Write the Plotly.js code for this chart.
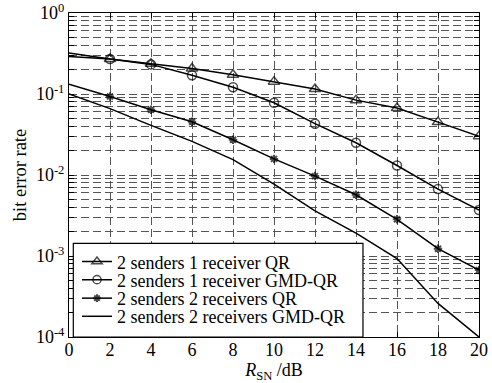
<!DOCTYPE html>
<html><head><meta charset="utf-8">
<script src="https://cdn.plot.ly/plotly-3.0.1.min.js"></script>
<style>html,body{margin:0;padding:0;background:#fff}#c{width:492px;height:383px}</style>
</head><body><div id="c"></div>
<script>
var snr = [0, 2, 4, 6, 8, 10, 12, 14, 16, 18, 20];
var qr1 = [0.32, 0.27, 0.237, 0.206, 0.173, 0.142, 0.115, 0.084, 0.067, 0.045, 0.030];
var gmd1 = [0.29, 0.27, 0.232, 0.17, 0.121, 0.078, 0.043, 0.025, 0.0131, 0.0067, 0.0037];
var qr2 = [0.132, 0.093, 0.064, 0.0455, 0.0272, 0.0158, 0.0097, 0.0057, 0.00284, 0.00123, 0.00067];
var gmd2 = [0.1, 0.066, 0.041, 0.026, 0.0155, 0.0077, 0.0036, 0.00192, 0.00093, 0.00026, 0.0001];
var names = ['2 senders 1 receiver QR', '2 senders 1 receiver GMD-QR', '2 senders 2 receivers QR', '2 senders 2 receivers GMD-QR'];
var yMajor = [1e-4, 1e-3, 1e-2, 1e-1, 1];
var yLabels = ['10<sup>-4</sup>', '10<sup>-3</sup>', '10<sup>-2</sup>', '10<sup>-1</sup>', '10<sup>0</sup>'];

var serif = 'Liberation Serif';
function sizes(s){ return snr.map(function(v,i){ return i===0 ? 0 : s; }); }
var traces = [
 {x: snr, y: qr1, name: names[0], legend: 'legend', mode: 'lines+markers', line:{color:'#000', width:1.5},
  marker:{symbol:'triangle-up-open', size:sizes(10), color:'#000', line:{width:1.5, color:'#000'}}},
 {x: snr, y: gmd1, name: names[1], legend: 'legend2', mode: 'lines+markers', line:{color:'#000', width:1.5},
  marker:{symbol:'circle-open', size:sizes(9), color:'#000', line:{width:1.5, color:'#000'}}},
 {x: snr, y: qr2, name: names[2], legend: 'legend3', mode: 'lines+markers', line:{color:'#000', width:1.5},
  marker:{symbol:'asterisk-open', size:sizes(7), color:'#000', line:{width:2, color:'#000'}}},
 {x: snr, y: gmd2, name: names[3], legend: 'legend4', mode: 'lines', line:{color:'#000', width:1.5}}
];

var yMinor = [];
for (var i = 0; i < yMajor.length - 1; i++) {
  for (var d = 2; d <= 9; d++) yMinor.push(d * yMajor[i]);
}

function leg(y) {
  return {x: 0.0195, y: y, xanchor: 'left', yanchor: 'middle', bgcolor: 'rgba(0,0,0,0)', borderwidth: 0,
    font: {family: serif, size: 18, color: '#000'}, itemwidth: 30};
}
var grid = {gridcolor: '#555', griddash: '8px,4px', gridwidth: 1};

var layout = {
  width: 492, height: 383,
  margin: {l: 69, r: 13, t: 13, b: 46},
  paper_bgcolor: '#fff', plot_bgcolor: '#fff',
  font: {family: serif, size: 18, color: '#000'},
  showlegend: true,
  xaxis: Object.assign({range: [0, 20], dtick: 2, tick0: 0, showline: true, mirror: 'ticks', linecolor: '#000', linewidth: 1,
    ticks: 'inside', ticklen: 5, tickcolor: '#000', showgrid: true, ticklabelstandoff: -4,
    zeroline: false, tickfont: {family: serif, size: 18}, automargin: false,
    title: {text: '<i>R</i><sub>SN</sub> /dB', font: {family: serif, size: 18}, standoff: 12}}, grid),
  yaxis: Object.assign({type: 'log', range: [-4, 0], tickvals: yMajor, ticktext: yLabels, showline: true, mirror: 'ticks', linecolor: '#000', linewidth: 1,
    ticks: 'inside', ticklen: 5, tickcolor: '#000', showgrid: true, automargin: false,
    minor: {tickvals: yMinor, ticks: 'inside', ticklen: 5, tickcolor: '#000', showgrid: true, gridcolor: '#555', griddash: '8px,4px', gridwidth: 1},
    zeroline: false, tickfont: {family: serif, size: 18},
    title: {text: 'bit error rate', font: {family: serif, size: 18.5}, standoff: 4}}, grid),
  legend: leg(0.232), legend2: leg(0.176), legend3: leg(0.119), legend4: leg(0.063),
  shapes: [{type: 'rect', xref: 'paper', yref: 'paper', x0: 0.0105, x1: 0.717, y0: 0, y1: 0.289,
    fillcolor: '#fff', line: {color: '#000', width: 1.2}, layer: 'above'}]
};
Plotly.newPlot('c', traces, layout, {displayModeBar: false, staticPlot: true});
</script></body></html>
